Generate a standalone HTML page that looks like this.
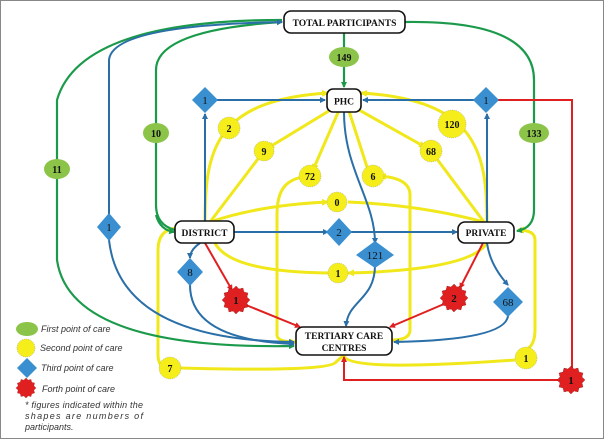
<!DOCTYPE html>
<html><head><meta charset="utf-8"><style>
html,body{margin:0;padding:0;background:#fff}
svg{display:block}
text{font-family:"Liberation Serif",serif;font-weight:bold;fill:#111}
.lg{font-family:"Liberation Sans",sans-serif;font-style:italic;font-weight:normal;font-size:9px;fill:#333}
</style></head><body>
<svg width="605" height="442" viewBox="0 0 605 442" xmlns="http://www.w3.org/2000/svg">
<defs>
<marker id="ag" markerWidth="6" markerHeight="6" refX="5" refY="3" orient="auto" markerUnits="userSpaceOnUse"><path d="M0,0L6,3L0,6z" fill="#1a9a4a"/></marker>
<marker id="ab" markerWidth="6" markerHeight="6" refX="5" refY="3" orient="auto" markerUnits="userSpaceOnUse"><path d="M0,0L6,3L0,6z" fill="#2a6fa8"/></marker>
<marker id="ay" markerWidth="7" markerHeight="7" refX="6" refY="3.5" orient="auto" markerUnits="userSpaceOnUse"><path d="M0,0L7,3.5L0,7z" fill="#f0e81a"/></marker>
<marker id="ar" markerWidth="6" markerHeight="6" refX="5" refY="3" orient="auto" markerUnits="userSpaceOnUse"><path d="M0,0L6,3L0,6z" fill="#e02020"/></marker>
</defs>
<rect x="0.5" y="0.5" width="603" height="438" fill="#fff" stroke="#888" stroke-width="1"/>

<!-- yellow -->
<g fill="none" stroke="#f0e81a" stroke-width="3">
<path d="M205,222 C205,150 215,100 328,93" marker-end="url(#ay)"/>
<path d="M337,106 L268,148" marker-end="url(#ay)"/>
<path d="M264,151 L210,222"/>
<path d="M340,108 L313,170" marker-end="url(#ay)"/>
<path d="M310,176 C285,178 277,190 277,215 L277,335 Q277,342 296,342" marker-end="url(#ay)"/>
<path d="M392,340 Q410,340 410,330 L410,195 Q410,178 380,176" marker-end="url(#ay)"/>
<path d="M348,108 L368,170"/>
<path d="M210,222 Q260,205 328,202" marker-end="url(#ay)"/>
<path d="M348,202 Q420,205 484,222"/>
<path d="M352,106 L425,147" marker-end="url(#ay)"/>
<path d="M431,151 L484,222"/>
<path d="M487,222 C487,150 475,100 361,93" marker-end="url(#ay)"/>
<path d="M487,243 Q470,270 348,273" marker-end="url(#ay)"/>
<path d="M329,273 Q230,272 215,243"/>
<path d="M176,228 Q158,230 158,250 L158,355 Q158,368 170,368"/>
<path d="M180,368 Q330,372 336,362 Q344,355 344,355"/>
<path d="M344,356 Q350,372 515,360"/>
<path d="M526,350 Q535,345 535,330 L535,240 Q535,230 518,230" marker-end="url(#ay)"/>
</g>

<!-- green -->
<g fill="none" stroke="#1a9a4a" stroke-width="2.2">
<path d="M344,32 L344,87" marker-end="url(#ag)"/>
<path d="M175,230 Q156,225 156,205 L156,70 Q156,30 282,22" marker-end="url(#ag)"/>
<path d="M156,215 Q160,230 174,232" marker-end="url(#ag)"/>
<path d="M282,20 Q80,20 57,100 L57,260 Q70,350 294,346" marker-end="url(#ag)"/>
<path d="M405,22 Q534,20 534,80 L534,210 Q534,228 517,231" marker-end="url(#ag)"/>
</g>

<!-- blue -->
<g fill="none" stroke="#2a6fa8" stroke-width="2">
<path d="M205,222 L205,114" marker-end="url(#ab)"/>
<path d="M215,100 L325,100" marker-end="url(#ab)"/>
<path d="M487,222 L487,114" marker-end="url(#ab)"/>
<path d="M476,100 L363,100" marker-end="url(#ab)"/>
<path d="M234,232 L328,232" marker-end="url(#ab)"/>
<path d="M349,232 L457,232" marker-end="url(#ab)"/>
<path d="M344,112 C344,170 375,200 375,243" marker-end="url(#ab)"/>
<path d="M375,265 C375,300 348,300 346,326" marker-end="url(#ab)"/>
<path d="M109,215 L109,60 Q112,25 282,22" marker-end="url(#ab)"/>
<path d="M109,240 Q120,340 294,342" marker-end="url(#ab)"/>
<path d="M200,243 Q190,250 190,258" marker-end="url(#ab)"/>
<path d="M190,285 Q190,340 294,344" marker-end="url(#ab)"/>
<path d="M487,243 Q490,265 508,285" marker-end="url(#ab)"/>
<path d="M508,316 Q505,340 394,342" marker-end="url(#ab)"/>
</g>

<!-- red -->
<g fill="none" stroke="#e02020" stroke-width="2">
<path d="M205,243 L232,290" marker-end="url(#ar)"/>
<path d="M246,305 L300,327" marker-end="url(#ar)"/>
<path d="M483,243 L460,288" marker-end="url(#ar)"/>
<path d="M444,304 L390,327" marker-end="url(#ar)"/>
<path d="M497,100 L572,100 L572,370"/>
<path d="M561,380 L344,380 L344,357" marker-end="url(#ar)"/>
</g>

<!-- boxes -->
<g fill="#fff" stroke="#111" stroke-width="1.6">
<rect x="284" y="11" width="121" height="22" rx="7"/>
<rect x="327" y="89" width="34" height="23" rx="6"/>
<rect x="175" y="221" width="59" height="22" rx="7"/>
<rect x="458" y="222" width="56" height="21" rx="7"/>
<rect x="296" y="327" width="96" height="28" rx="7"/>
</g>
<g font-size="9.5" text-anchor="middle">
<text x="344.5" y="26">TOTAL PARTICIPANTS</text>
<text x="344" y="104.5">PHC</text>
<text x="204.5" y="236">DISTRICT</text>
<text x="486" y="236">PRIVATE</text>
<text x="344" y="339">TERTIARY CARE</text>
<text x="344" y="351">CENTRES</text>
</g>

<!-- green ellipses -->
<g fill="#8cc44a">
<ellipse cx="344" cy="57" rx="15" ry="10"/>
<ellipse cx="156" cy="133" rx="13" ry="10"/>
<ellipse cx="57" cy="169" rx="13" ry="10"/>
<ellipse cx="534" cy="133" rx="15" ry="10"/>
<ellipse cx="27" cy="329" rx="11" ry="7"/>
</g>
<g font-size="10" text-anchor="middle">
<text x="344" y="61">149</text><text x="156" y="137">10</text><text x="57" y="173">11</text><text x="534" y="137">133</text>
</g>

<!-- yellow circles -->
<g fill="#f5ee1a" stroke="#999" stroke-width="0.5" stroke-dasharray="1,1">
<circle cx="229" cy="128" r="11"/><circle cx="264" cy="151" r="10"/><circle cx="310" cy="176" r="11"/>
<circle cx="373" cy="176" r="11"/><circle cx="337" cy="202" r="10"/><circle cx="452" cy="124" r="14"/>
<circle cx="431" cy="151" r="11"/><circle cx="338" cy="273" r="10"/><circle cx="170" cy="368" r="11"/>
<circle cx="526" cy="358" r="11"/><circle cx="26" cy="348" r="9"/>
</g>
<g font-size="10" text-anchor="middle">
<text x="229" y="132">2</text><text x="264" y="155">9</text><text x="310" y="180">72</text>
<text x="373" y="180">6</text><text x="337" y="206">0</text><text x="452" y="128">120</text>
<text x="431" y="155">68</text><text x="338" y="277">1</text><text x="170" y="372">7</text><text x="526" y="362">1</text>
</g>

<!-- diamonds -->
<g fill="#3a8fd0">
<path d="M205,87 L218,100 L205,113 L192,100z"/>
<path d="M486,87 L499,100 L486,113 L473,100z"/>
<path d="M109,213 L121,227 L109,241 L97,227z"/>
<path d="M339,218 L352,232 L339,246 L326,232z"/>
<path d="M375,241 L394,255 L375,268 L356,255z"/>
<path d="M190,258 L203,272 L190,286 L177,272z"/>
<path d="M508,287 L523,302 L508,317 L493,302z"/>
<path d="M27,358 L37,368 L27,378 L17,368z"/>
</g>
<g font-size="11" font-weight="normal" text-anchor="middle" style="font-weight:normal">
<text x="205" y="104" style="font-weight:normal">1</text><text x="486" y="104" style="font-weight:normal">1</text>
<text x="109" y="231" style="font-weight:normal">1</text><text x="339" y="236" style="font-weight:normal">2</text>
<text x="375" y="259" style="font-weight:normal">121</text><text x="190" y="276" style="font-weight:normal">8</text>
<text x="508" y="306" style="font-weight:normal">68</text>
</g>

<!-- gears -->
<g fill="#e02020" stroke="#600" stroke-width="0.5" stroke-dasharray="1,1">
<polygon id="g1" transform="translate(236,300)" points="0,-14 3,-11 7,-12 8,-8 12,-7 11,-3 14,0 11,3 12,7 8,8 7,12 3,11 0,14 -3,11 -7,12 -8,8 -12,7 -11,3 -14,0 -11,-3 -12,-7 -8,-8 -7,-12 -3,-11"/>
<polygon transform="translate(454,298)" points="0,-14 3,-11 7,-12 8,-8 12,-7 11,-3 14,0 11,3 12,7 8,8 7,12 3,11 0,14 -3,11 -7,12 -8,8 -12,7 -11,3 -14,0 -11,-3 -12,-7 -8,-8 -7,-12 -3,-11"/>
<polygon transform="translate(571,380)" points="0,-14 3,-11 7,-12 8,-8 12,-7 11,-3 14,0 11,3 12,7 8,8 7,12 3,11 0,14 -3,11 -7,12 -8,8 -12,7 -11,3 -14,0 -11,-3 -12,-7 -8,-8 -7,-12 -3,-11"/>
<polygon transform="translate(26,388) scale(0.72)" points="0,-14 3,-11 7,-12 8,-8 12,-7 11,-3 14,0 11,3 12,7 8,8 7,12 3,11 0,14 -3,11 -7,12 -8,8 -12,7 -11,3 -14,0 -11,-3 -12,-7 -8,-8 -7,-12 -3,-11"/>
</g>
<g font-size="11" text-anchor="middle">
<text x="236" y="304">1</text><text x="454" y="302">2</text><text x="571" y="384">1</text>
</g>

<!-- legend -->
<text class="lg" x="41" y="332">First point of care</text>
<text class="lg" x="40" y="351">Second point of care</text>
<text class="lg" x="41" y="371">Third point of care</text>
<text class="lg" x="42" y="392">Forth point of care</text>
<text class="lg" x="25" y="408" textLength="118" lengthAdjust="spacing">* figures indicated within the</text>
<text class="lg" x="25" y="419" textLength="118" lengthAdjust="spacing">shapes   are   numbers   of</text>
<text class="lg" x="25" y="430">participants.</text>
</svg>
</body></html>
